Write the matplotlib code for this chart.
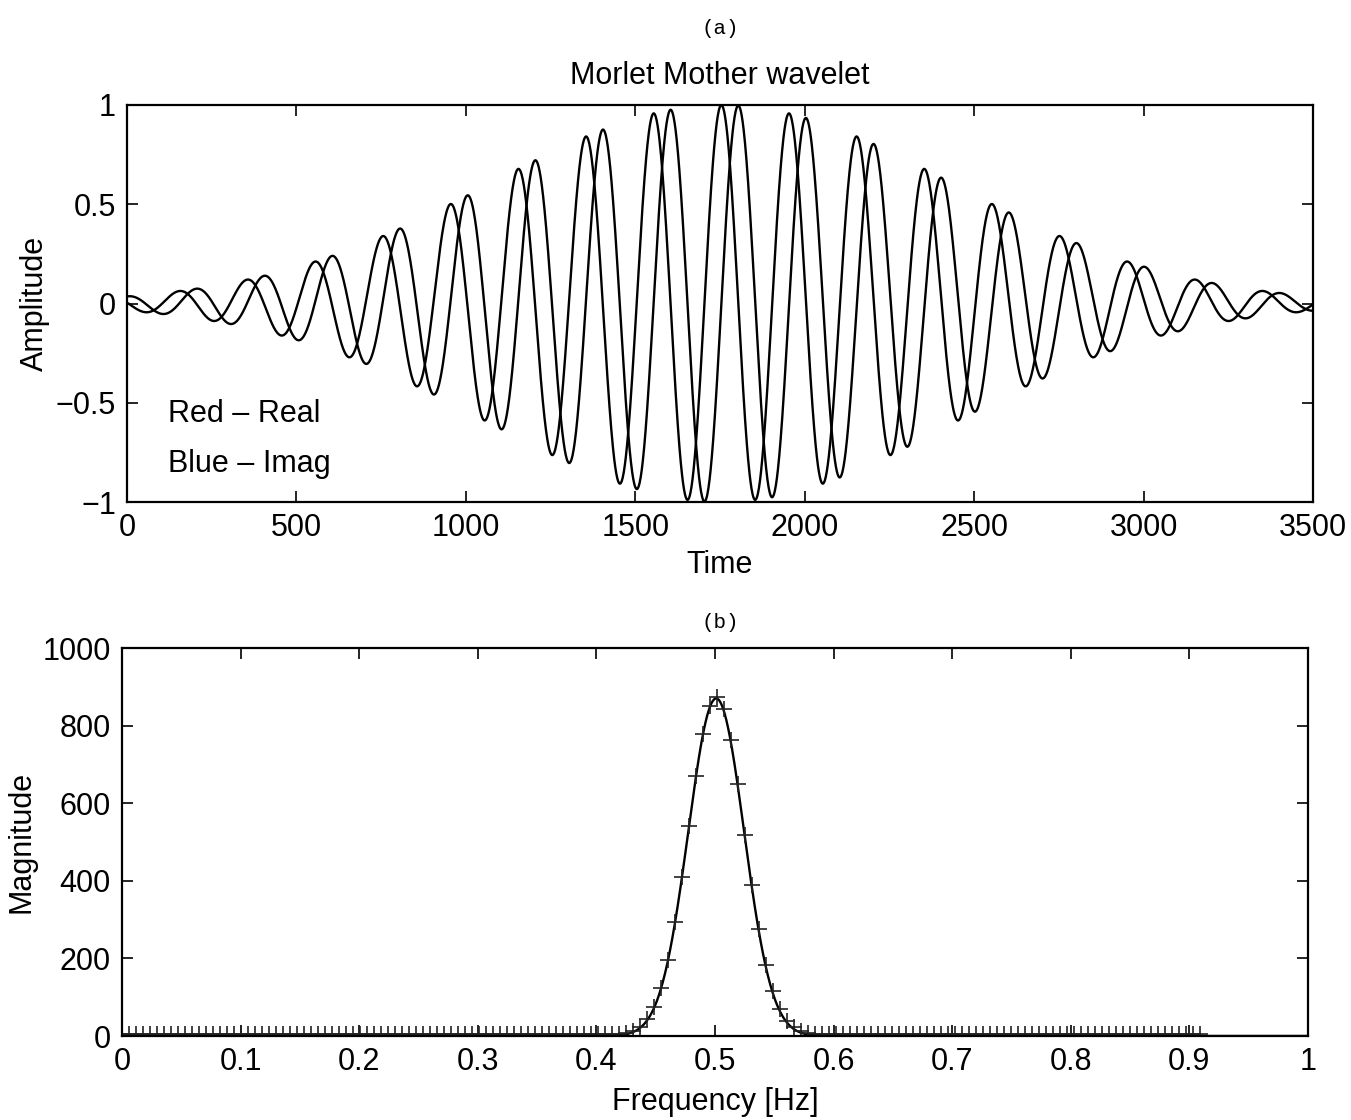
import numpy as np
import matplotlib
matplotlib.use("Agg")
import matplotlib.pyplot as plt

# ---- values ----
time_range = [0, 3500]
wavelet_center = 1754      # time of the central real-part peak
wavelet_sigma = 680        # gaussian envelope width (time units)
wavelet_period = 200       # oscillation period (time units)

freq_range = [0, 1]
spec_peak_freq = 0.501
spec_peak_mag = 870
spec_sigma = 0.0235
spec_floor = 4
marker_freq_end = 0.91
marker_freq_step = 0.0059

amp_ticks = [-1, -0.5, 0, 0.5, 1]
amp_ticklabels = ["\u22121", "\u22120.5", "0", "0.5", "1"]
time_ticks = [0, 500, 1000, 1500, 2000, 2500, 3000, 3500]
mag_ticks = [0, 200, 400, 600, 800, 1000]
freq_ticks = [0, 0.1, 0.2, 0.3, 0.4, 0.5, 0.6, 0.7, 0.8, 0.9, 1]
freq_ticklabels = ["0", "0.1", "0.2", "0.3", "0.4", "0.5", "0.6", "0.7", "0.8", "0.9", "1"]

# ---- series ----
t = np.linspace(time_range[0], time_range[1], 3501)
env = np.exp(-((t - wavelet_center) ** 2) / (2 * wavelet_sigma ** 2))
real_part = env * np.cos(2 * np.pi * (t - wavelet_center) / wavelet_period)
imag_part = env * np.sin(2 * np.pi * (t - wavelet_center) / wavelet_period)

f_line = np.linspace(freq_range[0], freq_range[1], 2001)
mag_line = spec_peak_mag * np.exp(-((f_line - spec_peak_freq) ** 2) / (2 * spec_sigma ** 2))
f_mark = np.arange(0, marker_freq_end + 1e-9, marker_freq_step)
mag_mark = spec_floor + spec_peak_mag * np.exp(-((f_mark - spec_peak_freq) ** 2) / (2 * spec_sigma ** 2))

plt.rcParams["font.family"] = ["Liberation Sans", "DejaVu Sans"]

W, H = 1351, 1120
fig = plt.figure(figsize=(W / 100, H / 100), dpi=100)

def ax_rect(l, r, t_, b):
    return [l / W, 1 - b / H, (r - l) / W, (b - t_) / H]

def style(ax):
    ax.tick_params(direction="in", top=True, right=True, length=8, width=1.2,
                   labelsize=22, pad=8, colors="black")
    for s in ax.spines.values():
        s.set_linewidth(1.6)

# ---- top panel ----
ax1 = fig.add_axes(ax_rect(127, 1313, 105, 502))
ax1.plot(t, real_part, color="black", lw=1.7)
ax1.plot(t, imag_part, color="black", lw=1.7)
ax1.set_xlim(*time_range)
ax1.set_ylim(-1, 1)
ax1.set_xticks(time_ticks)
ax1.set_yticks(amp_ticks)
ax1.set_yticklabels(amp_ticklabels)
style(ax1)
ax1.set_xlabel("Time", fontsize=22, labelpad=5)
ax1.set_ylabel("Amplitude", fontsize=22, labelpad=4)
ax1.set_title("Morlet Mother wavelet", fontsize=22, pad=15)
ax1.text(120, -0.555, "Red \u2013 Real", fontsize=22, va="center", ha="left")
ax1.text(120, -0.81, "Blue \u2013 Imag", fontsize=22, va="center", ha="left")
fig.text(720 / W, 1 - 28 / H, "(a)", fontsize=15, family="Liberation Mono",
         ha="center", va="center")

# ---- bottom panel ----
ax2 = fig.add_axes(ax_rect(122, 1308, 648, 1036))
ax2.plot(f_line, mag_line, color="black", lw=1.7)
ax2.plot(f_mark, mag_mark, linestyle="none", marker="+", markersize=11,
         markeredgewidth=1.2, color="#222222")
ax2.set_xlim(*freq_range)
ax2.set_ylim(0, 1000)
ax2.set_xticks(freq_ticks)
ax2.set_xticklabels(freq_ticklabels)
ax2.set_yticks(mag_ticks)
style(ax2)
ax2.set_xlabel("Frequency [Hz]", fontsize=22, labelpad=7)
ax2.set_ylabel("Magnitude", fontsize=22, labelpad=4)
fig.text(720 / W, 1 - 622 / H, "(b)", fontsize=15, family="Liberation Mono",
         ha="center", va="center")

fig.savefig("out.png", dpi=100)
